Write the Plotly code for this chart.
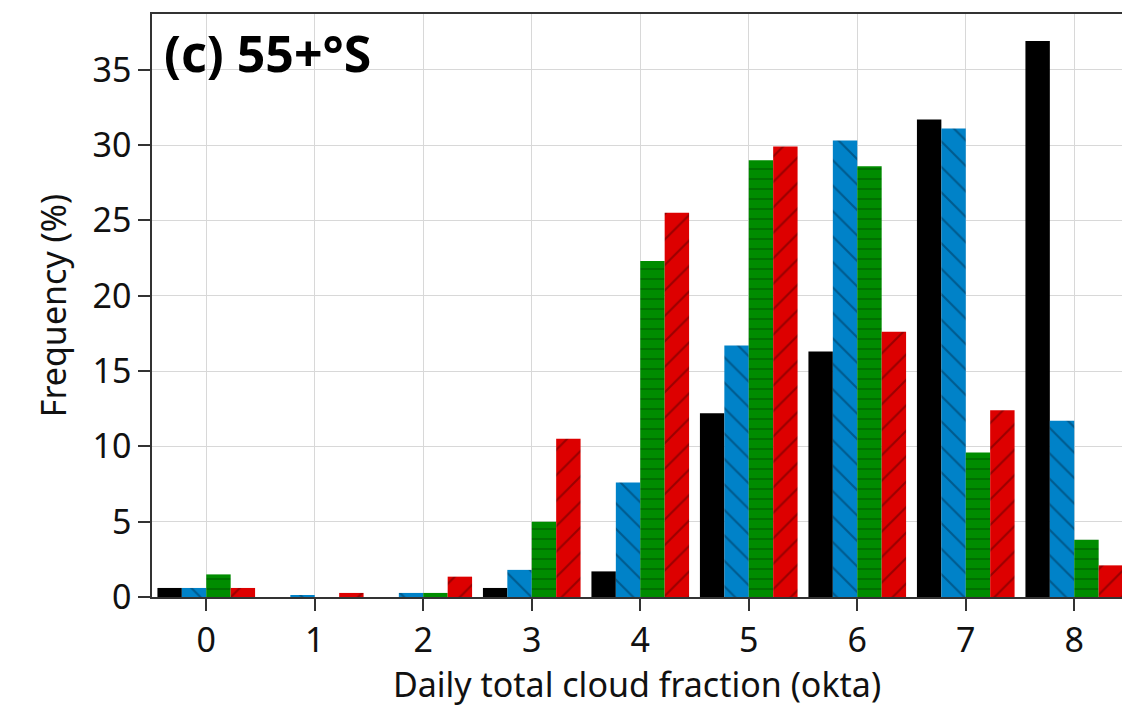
import plotly.graph_objects as go

categories = [0, 1, 2, 3, 4, 5, 6, 7, 8]
series_names = ["Obs", "Model A", "Model B", "Model C"]
obs = [0.6, 0.0, 0.0, 0.6, 1.7, 12.2, 16.3, 31.7, 36.9]
model_a = [0.6, 0.07, 0.27, 1.8, 7.6, 16.7, 30.3, 31.1, 11.7]
model_b = [1.5, 0.0, 0.27, 5.0, 22.3, 29.0, 28.6, 9.6, 3.8]
model_c = [0.6, 0.27, 1.35, 10.5, 25.5, 29.9, 17.6, 12.4, 2.1]

colors = ["#000000", "#0082C8", "#008C00", "#DD0000"]
pat_fg = [None, "#00507f", "#005000", "#8a0000"]
shapes = ["", "\\", "-", "/"]

fig = go.Figure()
for name, vals, c, fg, sh in zip(series_names, [obs, model_a, model_b, model_c], colors, pat_fg, shapes):
    marker = dict(color=c, line=dict(width=0))
    if sh:
        marker["pattern"] = dict(shape=sh, fgcolor=fg, bgcolor=c, size=10 if sh == "-" else 18,
                                 solidity=0.12, fgopacity=0.8, fillmode="overlay")
    fig.add_trace(go.Bar(x=categories, y=vals, name=name, marker=marker))

fig.update_layout(
    width=1122, height=707,
    margin=dict(l=152, r=0, t=14, b=110),
    barmode="group", bargap=0.1, bargroupgap=0,
    plot_bgcolor="white", paper_bgcolor="white",
    showlegend=False,
    font=dict(family="Noto Sans", size=34, color="#111111"),
)
fig.update_xaxes(
    range=[-0.5, 8.44], tickmode="array", tickvals=categories,
    ticks="outside", ticklen=12, tickcolor="#333333", tickwidth=2,
    showline=True, linecolor="#333333", linewidth=2, mirror=True,
    showgrid=True, gridcolor="#d8d8d8", gridwidth=1,
    title=dict(text="Daily total cloud fraction (okta)", font=dict(size=34), standoff=8),
    tickfont=dict(size=34), automargin=False,
)
fig.update_yaxes(
    range=[0, 38.7], tickmode="array", tickvals=[0, 5, 10, 15, 20, 25, 30, 35],
    ticks="outside", ticklen=12, tickcolor="#333333", tickwidth=1.5,
    showline=True, linecolor="#333333", linewidth=1.5, mirror=True,
    showgrid=True, gridcolor="#d8d8d8", gridwidth=1, zeroline=False,
    title=dict(text="Frequency (%)", font=dict(size=34), standoff=16),
    tickfont=dict(size=34), automargin=False,
)
fig.add_annotation(
    text="<b>(c) 55+°S</b>", xref="paper", yref="paper", x=0.01, y=0.995,
    xanchor="left", yanchor="top", showarrow=False,
    font=dict(family="Noto Sans", size=50, color="#000000"),
)
fig.write_html("out.html")
